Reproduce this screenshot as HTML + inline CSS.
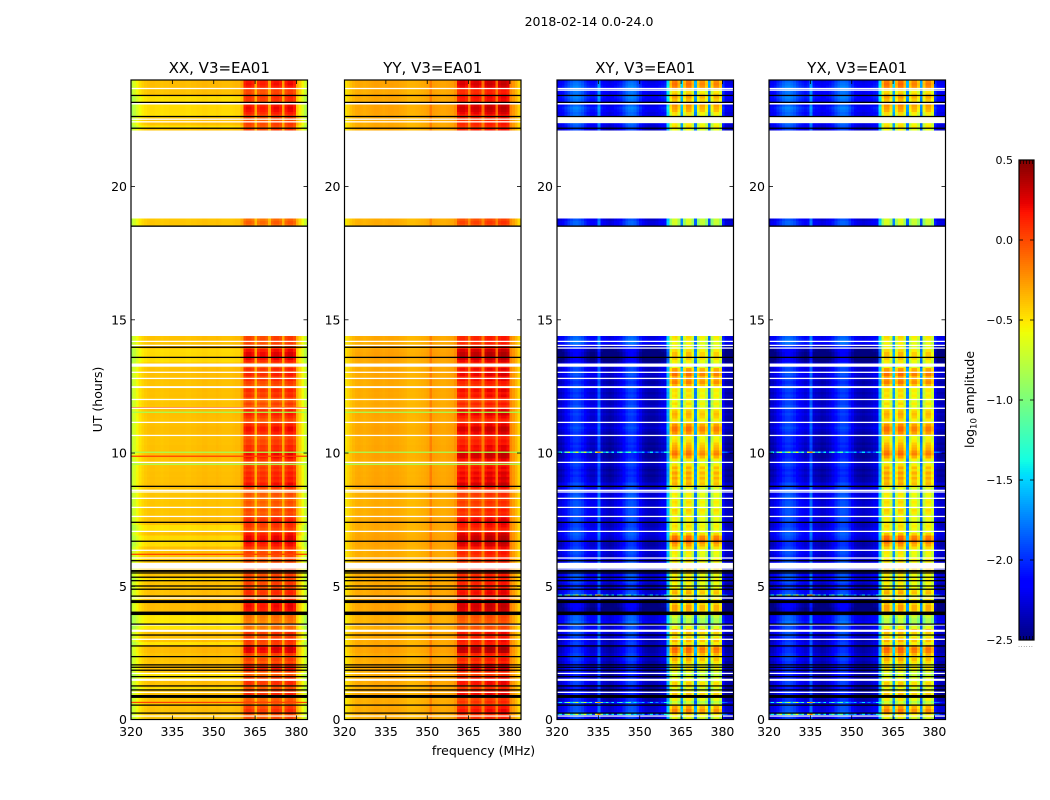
<!DOCTYPE html>
<html>
<head>
<meta charset="utf-8">
<title>2018-02-14 0.0-24.0</title>
<style>
html,body{margin:0;padding:0;background:#fff;}
svg{display:block;}
text{font-family:"DejaVu Sans","Liberation Sans",sans-serif;fill:#000;}
</style>
</head>
<body>
<svg id="figure" xmlns="http://www.w3.org/2000/svg" width="1050" height="800" viewBox="0 0 1050 800">
<rect x="0" y="0" width="1050" height="800" fill="#fff"/>
<text x="589" y="26" font-size="12.5" text-anchor="middle">2018-02-14 0.0-24.0</text>
<text x="483.5" y="755" font-size="12.5" text-anchor="middle">frequency (MHz)</text>
<text transform="translate(102 399.5) rotate(-90)" font-size="12.5" text-anchor="middle">UT (hours)</text>
<text transform="translate(974 399.5) rotate(-90)" font-size="12.5" text-anchor="middle">log<tspan font-size="8.5" dy="2.5">10</tspan><tspan dy="-2.5"> amplitude</tspan></text>
<g id="panels"></g>
<g id="colorbar"></g>
</svg>
<script>
// ---- axis ticks ----
const freqTicks = [320, 335, 350, 365, 380];
const hourTicks = [0, 5, 10, 15, 20];
const colorTicks = [-2.5, -2.0, -1.5, -1.0, -0.5, 0.0, 0.5];
const colorTickLabels = ['\u22122.5', '\u22122.0', '\u22121.5', '\u22121.0', '\u22120.5', '0.0', '0.5'];
const panelTitles = ['XX, V3=EA01', 'YY, V3=EA01', 'XY, V3=EA01', 'YX, V3=EA01'];

// ---- spectra: log10 amplitude per 1 MHz channel, 320..383 MHz ----
const spectrumXX = [-0.78,-0.68,-0.58,-0.5,-0.45,-0.42,-0.4,-0.39,-0.39,-0.4,-0.4,-0.41,-0.4,-0.4,-0.39,-0.39,-0.39,-0.39,-0.39,-0.39,-0.4,-0.4,-0.39,-0.39,-0.38,-0.38,-0.37,-0.37,-0.38,-0.38,-0.38,-0.37,-0.38,-0.39,-0.39,-0.39,-0.39,-0.38,-0.37,-0.37,-0.3,-0.06,-0.01,-0.01,-0.07,-0.36,-0.1,-0.05,-0.05,-0.1,-0.34,-0.05,0,0,-0.05,-0.33,-0.04,0.02,0.02,-0.05,-0.33,-0.45,-0.58,-0.72];
const spectrumYY = [-0.55,-0.46,-0.4,-0.36,-0.33,-0.32,-0.33,-0.34,-0.33,-0.32,-0.31,-0.3,-0.3,-0.31,-0.32,-0.31,-0.3,-0.3,-0.31,-0.31,-0.32,-0.33,-0.34,-0.36,-0.36,-0.36,-0.35,-0.34,-0.33,-0.32,-0.3,-0.18,-0.29,-0.3,-0.31,-0.32,-0.32,-0.31,-0.3,-0.29,-0.24,0.03,0.07,0.07,0.02,-0.2,0.04,0.08,0.08,0.03,-0.18,0.07,0.11,0.11,0.06,-0.16,0.09,0.13,0.13,0.08,-0.2,-0.27,-0.35,-0.46];
const spectrumXY = [-2.35,-2.3,-2.25,-2.15,-2.06,-1.98,-1.93,-1.92,-1.96,-2.02,-2.12,-2.2,-2.25,-2.25,-2.2,-1.85,-2.25,-2.3,-2.33,-2.36,-2.33,-2.28,-2.24,-2.18,-2.08,-1.98,-1.93,-1.92,-1.96,-2.06,-2.18,-2.28,-2.33,-2.36,-2.36,-2.36,-2.33,-2.28,-2.24,-2.2,-1.6,-0.8,-0.58,-0.55,-0.76,-1.7,-0.78,-0.56,-0.56,-0.8,-1.8,-0.84,-0.64,-0.64,-0.84,-1.85,-0.86,-0.62,-0.62,-0.8,-2.15,-2.35,-2.38,-2.38];
const spectrumYX = [-2.35,-2.3,-2.25,-2.15,-2.06,-1.98,-1.93,-1.92,-1.95,-2.0,-2.08,-2.15,-2.2,-2.24,-2.2,-1.85,-2.24,-2.28,-2.3,-2.34,-2.32,-2.28,-2.24,-2.16,-2.06,-1.98,-1.93,-1.93,-1.96,-2.06,-2.18,-2.28,-2.32,-2.34,-2.36,-2.34,-2.32,-2.28,-2.24,-2.2,-1.6,-0.78,-0.56,-0.55,-0.76,-1.7,-0.76,-0.54,-0.54,-0.78,-1.8,-0.82,-0.62,-0.62,-0.82,-1.85,-0.82,-0.6,-0.6,-0.78,-2.15,-2.3,-2.34,-2.34];

// ---- time blocks (start hour of each block, rows are 0.1 h) ----
const blockStartHours = [0, 5.8, 18.5, 22.1];

// hot-band gain per row, parallel hands
const autoGainBlock0 = [0,-.02,.08,.1,.05,-.1,0,-.05,.1,.12,.05,0,-.05,.1,.1,.05,-.05,-.05,.15,.15,.12,0,.05,-.05,.05,.25,.28,.22,.05,.08,.05,.02,.08,-.1,-.12,-.1,-.15,-.12,-.1,-.1,.15,.2,.22,.2,.1,.05,.05,.12,.1,.02,.05,.05,-.02,.05,.02,.1,.08,.05];
const autoGainBlock1 = [-.05,0,.02,0,.05,.02,.08,.18,.24,.26,.24,.18,.05,.02,.08,.1,.14,.1,.04,-.02,.03,-.05,-.05,-.02,-.08,-.05,-.02,-.05,.02,.15,.2,.12,.16,.1,.14,.06,.1,.04,.02,.1,.2,.22,.18,.1,.12,.04,.06,0,.03,.14,.2,.2,.12,.02,0,.08,.15,.18,.1,-.02,.04,-.04,.02,.1,.06,.12,.04,0,.04,.12,.06,.14,.05,.12,0,-.02,.14,.22,.26,.26,.2,.06,.04,.02,.05,.04];
const autoGainBlock2 = [-.1,-.05,-.1];
const autoGainBlock3 = [.05,0,.05,0,0,.05,.15,.2,.22,.18,0,.08,.1,.05,.02,.05,.15,.2,.18];

// hot-band gain per row, cross hands
const crossGainBlock0 = [0,.1,.35,.4,.3,.05,-.15,.05,.2,.2,.05,-.05,.1,.15,.05,0,-.1,-.1,.05,.1,.05,.15,.25,.15,.3,.45,.5,.35,.1,.25,.15,.05,.2,.35,0,-.15,-.2,-.2,-.1,.1,.2,.3,.3,.2,.15,.1,0,.25,.2,.05,0,.05,.1,0,.05,.2,.25,.1];
const crossGainBlock1 = [0,.1,.1,0,.05,.05,.15,.3,.45,.5,.45,.2,0,.05,.1,.05,0,.05,-.05,.1,.15,0,.05,.1,.05,0,.05,0,-.05,.1,.25,.2,.3,.2,.3,.15,.25,.1,-.1,.1,.3,.45,.4,.3,.25,.2,.1,.05,.05,.35,.45,.45,.35,.05,.1,.2,.25,.2,.1,0,.1,0,.05,.1,.05,.1,.05,.25,.4,.35,.3,.45,.35,.3,0,0,.05,.15,.2,.2,.1,-.05,.05,0,.05,.1];
const crossGainBlock2 = [-.15,-.1,-.1];
const crossGainBlock3 = [0,.1,.05,.1,0,.05,.1,.25,.3,.35,.1,.2,.3,.2,.1,.2,.4,.45,.4];

// quiet-band gain per row, cross hands
const crossLowBlock0 = [0,.05,.1,.05,.05,0,.05,-.05,-.1,-.1,-.05,-.1,-.1,0,0,-.05,-.1,-.05,-.05,-.05,-.05,-.05,0,.05,0,-.05,-.05,-.1,0,-.05,0,.05,.05,0,.05,.1,.15,.1,.1,0,-.25,-.25,-.2,-.2,-.15,-.1,-.05,.05,0,0,-.05,.05,0,.1,.05,.05,0,0];
const crossLowBlock1 = [.1,.05,.05,0,.05,.05,0,-.05,-.05,0,.05,.1,.05,.05,0,0,.05,.05,0,.05,.05,0,.05,.05,0,.1,.05,.1,.05,0,.05,-.05,-.05,-.1,-.05,-.1,-.05,0,0,-.05,-.1,-.1,-.05,-.1,-.05,-.1,-.05,-.05,-.05,-.05,0,.05,0,0,-.05,-.05,0,-.05,0,.05,0,0,-.05,0,-.05,0,.05,0,-.05,0,0,.05,.05,0,.05,-.05,-.2,-.25,-.25,-.25,-.2,-.1,.05,.15,.15,.1];
const crossLowBlock2 = [.1,.1,.05];
const crossLowBlock3 = [0,.05,.1,.15,.1,.15,.1,.15,.2,.1,.05,.15,.2,.15,.15,.2,.2,.15,.1];

// quiet-band tilt per row for the XX panel (yellow rows)
const xxYellowHours = [0.8,1.1,1.5,1.6,2.8,3.4,3.5,3.6,3.7,3.8,3.9,5.2,6.5,6.6,6.7,6.8,7.1,7.2,13.4,13.5,13.6,13.7,13.8,22.2,22.6,22.7,22.8,22.9,23.0,23.2,23.3];

// interference rows (thin, one integration)
const rainbowOffsets = [.6,.9,.3,1.0,1.3,.5,.8,1.2,.4,.9,1.4,.6,1.0,.3,1.5,1.7,1.2,.6,1.0,.4,.9,.2,.7,1.0,.3,.6,.8,.2,.5,.3,.4,.7,.2,.5,.9,.3,.6,.2,.4,.8,.3,0,0,0,0,0,0,0,0,0,0,0,0,0,0,0,0,0,0,0,.4,.5,.3,.2];
const crossRainbowHours = [0.2, 0.64, 4.67, 10.03];
const autoGreenLineHours = [9.58, 10.03, 11.53];
const autoRedLineHours = [0.64, 6.2, 9.88, 11.7];

// flagged rows shared by all panels (UT hours)
const whiteLineHours = [0.13,1.02,1.73,3.01,3.55,4.56,5.65,6.06,6.35,7.06,7.62,7.96,8.3,8.54,8.6,9.65,10.66,11.15,11.68,12.01,12.8,13.03,14.04,14.19,23.68];
const whiteBandStart = [1.45,3.29,5.68,12.44,13.24,23.08];
const whiteBandEnd = [1.53,3.37,5.88,12.51,13.36,23.17];
const blackLineHours = [0.24,0.54,1.11,1.26,1.61,1.85,1.96,2.05,2.36,2.76,3.17,3.58,4.63,4.89,5.01,5.21,5.34,5.5,5.96,6.69,7.4,8.75,13.59,22.19,22.63,23.16,23.42];
const blackBandStart = [0.81,3.92,4.37,5.54,18.49];
const blackBandEnd = [0.92,4.05,4.48,5.61,18.54];
// flags that differ between parallel and cross hands
const autoWhiteLineHours = [22.43,22.53];
const crossWhiteLineHours = [13.94,23.62];
const crossWhiteBandStart = [22.38];
const crossWhiteBandEnd = [22.62];
const autoBlackLineHours = [13.97];

// ---- scales ----
const freqMin = 320, freqMax = 384, hourMin = 0, hourMax = 24, valueMin = -2.5, valueMax = 0.5;
const panelLefts = [131, 344.5, 557, 769];
const panelWidth = 176.5, plotTop = 80, plotBottom = 719.5;
const channelShift = 0.25;
const xScale = (left, f) => left + (Math.max(freqMin, Math.min(freqMax, f)) - freqMin) / (freqMax - freqMin) * panelWidth;
const yScale = h => plotBottom - (h - hourMin) / (hourMax - hourMin) * (plotBottom - plotTop);
const cbTop = 160, cbBottom = 640, cbLeft = 1019, cbRight = 1034;
const cbScale = v => cbBottom - (v - valueMin) / (valueMax - valueMin) * (cbBottom - cbTop);

function ramp(n, xs, ys) {
  for (let i = 1; i < xs.length; i++) {
    if (n <= xs[i]) return ys[i - 1] + (ys[i] - ys[i - 1]) * (n - xs[i - 1]) / (xs[i] - xs[i - 1]);
  }
  return ys[ys.length - 1];
}
function jet(v) {
  const n = Math.max(0, Math.min(1, (v - valueMin) / (valueMax - valueMin)));
  const r = ramp(n, [0, .35, .66, .89, 1], [0, 0, 1, 1, .5]);
  const g = ramp(n, [0, .125, .375, .64, .91, 1], [0, 0, 1, 1, 0, 0]);
  const b = ramp(n, [0, .11, .34, .65, 1], [.5, 1, 1, 0, 0]);
  return 'rgb(' + Math.round(255 * r) + ',' + Math.round(255 * g) + ',' + Math.round(255 * b) + ')';
}
const NS = 'http://www.w3.org/2000/svg';
function mk(tag, parent, props) {
  const e = document.createElementNS(NS, tag);
  for (const k in props) e.setAttribute(k, props[k]);
  parent.appendChild(e);
  return e;
}
const near = (list, h) => list.some(x => Math.abs(x - h) < 0.04);
const inHotWindow = f => f >= 361 && f <= 379;
const isWindowEdgeChannel = f => f === 365 || f === 370 || f === 375;

const autoGain = [autoGainBlock0, autoGainBlock1, autoGainBlock2, autoGainBlock3];
const crossGain = [crossGainBlock0, crossGainBlock1, crossGainBlock2, crossGainBlock3];
const crossLow = [crossLowBlock0, crossLowBlock1, crossLowBlock2, crossLowBlock3];
const spectra = [spectrumXX, spectrumYY, spectrumXY, spectrumYX];
const root = document.getElementById('panels');

spectra.forEach(function (spectrum, p) {
  const left = panelLefts[p], isCross = p >= 2;
  const panel = mk('g', root, {});
  
  
  const cells = mk('g', panel, {'shape-rendering': 'crispEdges'});
  
  

  blockStartHours.forEach(function (start, b) {
    const count = autoGain[b].length;
    for (let r = 0; r < count; r++) {
      const hour = start + r * 0.1;
      for (let ch = 0; ch < spectrum.length; ch++) {
        const f = freqMin + ch;
        const hot = inHotWindow(f);
        let v = spectrum[ch];
        if (isCross) {
          if (hot) v += (isWindowEdgeChannel(f) ? 0.5 : 1) * crossGain[b][r];
          else v += crossLow[b][r];
        } else {
          if (hot) v += (isWindowEdgeChannel(f) ? 0.3 : 1) * autoGain[b][r];
          else v += 0.12 * autoGain[b][r];
          if (p === 0 && near(xxYellowHours, hour) && !hot) v -= 0.1;
        }
        const x0 = xScale(left, f - channelShift);
        const x1 = ch === spectrum.length - 1 ? left + panelWidth : xScale(left, f + 1 - channelShift);
        const cell = mk('rect', cells, {
          x: x0,
          y: yScale(hour + 0.1),
          width: x1 - x0,
          height: yScale(hour) - yScale(hour + 0.1),
          fill: jet(v)
        });
        
        
      }
    }
  });

  // thin interference rows
  if (isCross) {
    crossRainbowHours.forEach(function (h) {
      spectrum.forEach(function (base, ch) {
        if (rainbowOffsets[ch] === 0) return;
        const f = freqMin + ch;
        const x0 = xScale(left, f - channelShift);
        const x1 = xScale(left, f + 1 - channelShift);
        const spot = mk('rect', cells, {
          x: x0, y: yScale(h + 0.024), width: x1 - x0, height: yScale(h - 0.024) - yScale(h + 0.024),
          fill: jet(base + rainbowOffsets[ch])
        });
        
        
      });
    });
  }

  // flagged rows
  function flagBand(h0, h1, colour, name) {
    const band = mk('rect', panel, {
      x: left, y: yScale(h1), width: panelWidth, height: yScale(h0) - yScale(h1), fill: colour
    });
    
    
  }
  const lineHalf = 0.024;
  if (!isCross) {
    autoGreenLineHours.forEach(h => flagBand(h - lineHalf, h + lineHalf, jet(-0.85), 'rfi-row'));
    if (p === 0) autoRedLineHours.forEach(h => flagBand(h - lineHalf, h + lineHalf, jet(0.02), 'rfi-row'));
  }
  whiteBandStart.forEach((s, i) => flagBand(s, whiteBandEnd[i], '#fff', 'flagged-gap'));
  whiteLineHours.forEach(h => flagBand(h - lineHalf, h + lineHalf, '#fff', 'flagged-gap'));
  if (isCross) {
    crossWhiteBandStart.forEach((s, i) => flagBand(s, crossWhiteBandEnd[i], '#fdfdf2', 'flagged-gap'));
    crossWhiteLineHours.forEach(h => flagBand(h - lineHalf, h + lineHalf, '#fff', 'flagged-gap'));
  } else {
    autoWhiteLineHours.forEach(h => flagBand(h - lineHalf, h + lineHalf, '#fff', 'flagged-gap'));
    autoBlackLineHours.forEach(h => flagBand(h - lineHalf, h + lineHalf, '#000', 'zero-row'));
  }
  blackBandStart.forEach((s, i) => flagBand(s, blackBandEnd[i], '#000', 'zero-row'));
  blackLineHours.forEach(h => flagBand(h - lineHalf, h + lineHalf, '#000', 'zero-row'));

  // frame
  const frame = mk('rect', panel, {
    x: left, y: plotTop, width: panelWidth, height: plotBottom - plotTop,
    fill: 'none', stroke: '#000', 'stroke-width': 1.2
  });
  
  

  // title
  const title = mk('text', panel, {
    x: left + panelWidth / 2, y: 73, 'font-size': 15, 'text-anchor': 'middle'
  });
  title.textContent = panelTitles[p];
  
  

  // frequency ticks
  freqTicks.forEach(function (t) {
    const x = xScale(left, t);
    const bottomTick = mk('line', panel, {x1: x, x2: x, y1: plotBottom, y2: plotBottom - 4, stroke: '#000', 'stroke-width': 0.8});
    
    
    const topTick = mk('line', panel, {x1: x, x2: x, y1: plotTop, y2: plotTop + 4, stroke: '#000', 'stroke-width': 0.8});
    
    
    const label = mk('text', panel, {x: x, y: 736, 'font-size': 12.5, 'text-anchor': 'middle'});
    label.textContent = String(t);
    
    
  });

  // hour ticks
  hourTicks.forEach(function (t) {
    const y = yScale(t);
    const leftTick = mk('line', panel, {x1: left, x2: left + 4, y1: y, y2: y, stroke: '#000', 'stroke-width': 0.8});
    
    
    const rightTick = mk('line', panel, {x1: left + panelWidth, x2: left + panelWidth - 4, y1: y, y2: y, stroke: '#000', 'stroke-width': 0.8});
    
    
    const label = mk('text', panel, {x: left - 4, y: y + 4.5, 'font-size': 12.5, 'text-anchor': 'end'});
    label.textContent = String(t);
    
    
  });
});

// ---- colorbar ----
const cb = document.getElementById('colorbar');
const cbStrips = mk('g', cb, {'shape-rendering': 'crispEdges'});


const cbLevels = 240;
for (let i = 0; i < cbLevels; i++) {
  const v0 = valueMin + (valueMax - valueMin) * i / cbLevels;
  const v1 = valueMin + (valueMax - valueMin) * (i + 1) / cbLevels;
  const strip = mk('rect', cbStrips, {
    x: cbLeft, y: cbScale(v1), width: cbRight - cbLeft, height: cbScale(v0) - cbScale(v1), fill: jet((v0 + v1) / 2)
  });
  
  
}
const cbFrame = mk('rect', cb, {x: cbLeft, y: cbTop, width: cbRight - cbLeft, height: cbBottom - cbTop, fill: 'none', stroke: '#000', 'stroke-width': 1.2});


colorTicks.forEach(function (t, i) {
  const y = cbScale(t);
  const tickL = mk('line', cb, {x1: cbLeft, x2: cbLeft + 4, y1: y, y2: y, stroke: '#000', 'stroke-width': 0.8});
  
  
  const tickR = mk('line', cb, {x1: cbRight, x2: cbRight - 4, y1: y, y2: y, stroke: '#000', 'stroke-width': 0.8});
  
  
  const label = mk('text', cb, {x: 1013, y: y + 4, 'font-size': 11, 'text-anchor': 'end'});
  label.textContent = colorTickLabels[i];
  
  
});
const cbMinorFractions = [0.1, 0.3, 0.5, 0.7, 0.9];
cbMinorFractions.forEach(function (fr) {
  const x = cbLeft + fr * (cbRight - cbLeft);
  const minorTop = mk('line', cb, {x1: x, x2: x, y1: cbTop, y2: cbTop + 4, stroke: '#000', 'stroke-width': 0.7});
  
  
  const minorBottom = mk('line', cb, {x1: x, x2: x, y1: cbBottom, y2: cbBottom - 4, stroke: '#000', 'stroke-width': 0.7});
  
  
});
const cbDots = mk('text', cb, {x: 1026, y: 647, 'font-size': 5, 'text-anchor': 'middle', 'letter-spacing': 1, fill: '#777'});
cbDots.textContent = '......';


</script>
</body>
</html>
